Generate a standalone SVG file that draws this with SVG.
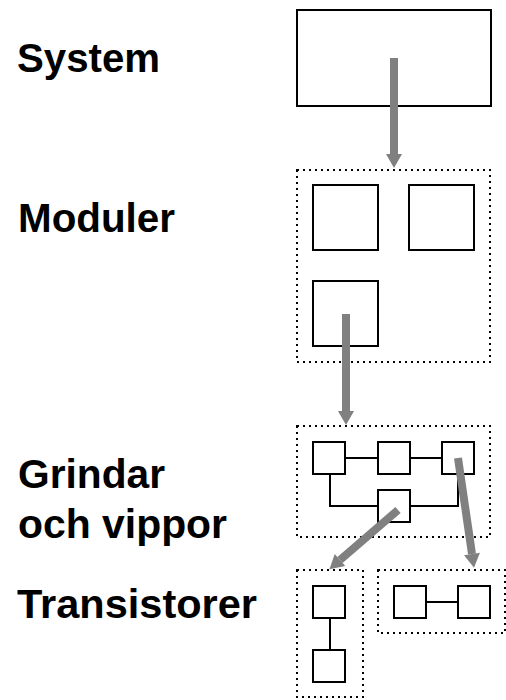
<svg xmlns="http://www.w3.org/2000/svg" width="506" height="700" viewBox="0 0 506 700">
<defs>
<style>
.lbl{font-family:"Liberation Sans",Arial,sans-serif;font-weight:bold;font-size:40px;fill:#000}
.box{fill:#fff;stroke:#000;stroke-width:2}
.dot{fill:none;stroke:#000;stroke-width:2;stroke-dasharray:2 4}
.wire{fill:none;stroke:#000;stroke-width:2}
.arr{stroke:#808080;stroke-width:8;fill:none}
</style>
<marker id="ah" markerUnits="userSpaceOnUse" markerWidth="16" markerHeight="16" viewBox="0 0 14 16" refX="0" refY="8" orient="auto">
<path d="M0,0 L14,8 L0,16 Z" fill="#808080"/>
</marker>
</defs>
<rect width="506" height="700" fill="#fff"/>
<g id="labels">
<text class="lbl" x="17" y="72" textLength="143" lengthAdjust="spacingAndGlyphs">System</text>
<text class="lbl" x="18" y="232" textLength="157" lengthAdjust="spacingAndGlyphs">Moduler</text>
<text class="lbl" x="18" y="488" textLength="147" lengthAdjust="spacingAndGlyphs">Grindar</text>
<text class="lbl" x="18" y="538" textLength="209" lengthAdjust="spacingAndGlyphs">och vippor</text>
<text class="lbl" x="17" y="618" textLength="240" lengthAdjust="spacingAndGlyphs">Transistorer</text>
</g>
<g id="system">
<rect class="box" x="297" y="10" width="194" height="96"/>
</g>
<g id="moduler">
<rect class="dot" x="297" y="170" width="193" height="192"/>
<rect class="box" x="313" y="185" width="65" height="65"/>
<rect class="box" x="409" y="185" width="65" height="65"/>
<rect class="box" x="313" y="281" width="65" height="65"/>
</g>
<g id="grindar">
<rect class="dot" x="297" y="426" width="193" height="111"/>
<path class="wire" d="M346,458 H378 M410,458 H442 M330,474 V506 H378 M410,506 H458 V474"/>
<rect class="box" x="313" y="442" width="32" height="32"/>
<rect class="box" x="378" y="442" width="32" height="32"/>
<rect class="box" x="442" y="442" width="32" height="32"/>
<rect class="box" x="378" y="490" width="32" height="32"/>
</g>
<g id="transistorer1">
<rect class="dot" x="297" y="570" width="66" height="127"/>
<path class="wire" d="M330,618 V650"/>
<rect class="box" x="313" y="586" width="32" height="32"/>
<rect class="box" x="313" y="650" width="32" height="32"/>
</g>
<g id="transistorer2">
<rect class="dot" x="378" y="570" width="127" height="63"/>
<path class="wire" d="M426,602 H458"/>
<rect class="box" x="394" y="586" width="32" height="32"/>
<rect class="box" x="458" y="586" width="32" height="32"/>
</g>
<g id="connectors">
<line class="arr" x1="394" y1="58" x2="394" y2="154" marker-end="url(#ah)"/>
<line class="arr" x1="346" y1="314" x2="346" y2="411" marker-end="url(#ah)"/>
<line class="arr" x1="398" y1="510" x2="340" y2="560" marker-end="url(#ah)"/>
<line class="arr" x1="458" y1="458" x2="472" y2="554" marker-end="url(#ah)"/>
</g>
</svg>
